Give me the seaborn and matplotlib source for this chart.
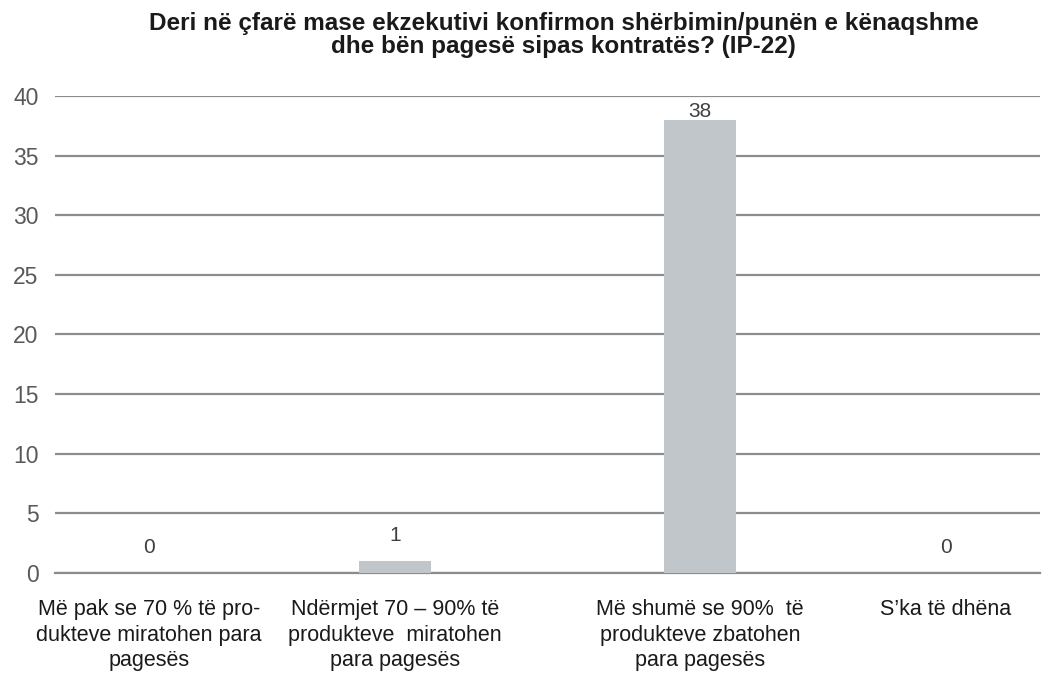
import numpy as np
import pandas as pd
import matplotlib.pyplot as plt
import seaborn as sns

sns.set_theme(style='white')
plt.rcParams['font.family'] = ['Liberation Sans', 'DejaVu Sans']

categories = ['Më pak se 70 % të pro-\ndukteve miratohen para\npagesës',
              'Ndërmjet 70 – 90% të\nprodukteve  miratohen\npara pagesës',
              'Më shumë se 90%  të\nprodukteve zbatohen\npara pagesës',
              'S’ka të dhëna']
values = [0, 1, 38, 0]
series = ['a', 'a', 'b', 'b']

df = pd.DataFrame({'kat': categories, 'vlera': values, 'seri': series})

fig = plt.figure(figsize=(10.64, 6.73), dpi=100)
ax = fig.add_axes([0.052, 0.149, 0.925, 0.708])

sns.barplot(data=df, x='kat', y='vlera', hue='seri', dodge=True,
            palette=['#BFC6CC', '#BFC6CC'], width=0.48, gap=0.0,
            linewidth=0, edgecolor='none',
            legend=False, ax=ax, zorder=3)

# widen bars around their centre
for p in ax.patches:
    c = p.get_x() + p.get_width() / 2
    p.set_width(0.29)
    p.set_x(c - 0.145)

ax.set_ylim(0, 40)
ax.set_yticks(range(0, 41, 5))
ax.yaxis.grid(True, color='#8c8c8c', lw=1.6, zorder=0)
ax.set_axisbelow(True)
for s in ['left', 'right', 'top']:
    ax.spines[s].set_visible(False)
ax.spines['bottom'].set_color('#8c8c8c')
ax.spines['bottom'].set_linewidth(1.6)

xs = []
for i, v in enumerate(values):
    off = -1 if series[i] == 'a' else 1
    x = i + off * 0.12
    xs.append(x)
    if v >= 37:
        ax.annotate(str(v), (x, 40), xytext=(0, -11), textcoords='offset points',
                    ha='center', va='center', fontsize=15, color='#404040')
    else:
        ax.annotate(str(v), (x, v), xytext=(0, 18), textcoords='offset points',
                    ha='center', va='center', fontsize=15, color='#404040')

ax.set_xticks(xs)
ax.set_xticklabels(categories, fontsize=15.5, color='#1a1a1a', linespacing=1.28)
ax.tick_params(axis='y', labelsize=16.5, labelcolor='#595959', length=0, pad=12)
ax.tick_params(axis='x', length=0, pad=19)
ax.set_xlabel('')
ax.set_ylabel('')
ax.set_xlim(-0.5, 3.5)

fig.suptitle('Deri në çfarë mase ekzekutivi konfirmon shërbimin/punën e kënaqshme\n'
             'dhe bën pagesë sipas kontratës? (IP-22)',
             x=0.53, y=0.982, fontsize=17.5, fontweight='bold', color='#1a1a1a',
             linespacing=1.0)

fig.savefig('out.png', dpi=100)
plt.close()
